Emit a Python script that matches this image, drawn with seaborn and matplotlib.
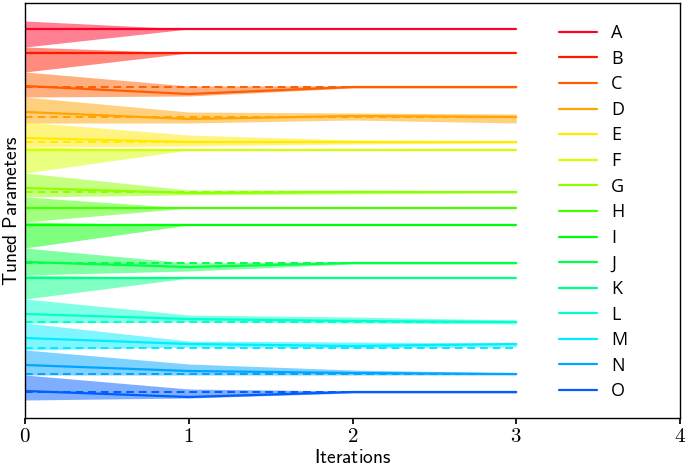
import numpy as np
import pandas as pd
import matplotlib
matplotlib.use("Agg")
import matplotlib.pyplot as plt
from matplotlib.ticker import FuncFormatter
import seaborn as sns

# parameters and iterations
params = list("ABCDEFGHIJKLMNO")
iterations = [0, 1, 2, 3]

# true (target) value of each parameter, dashed line
true_vals = [389, 365, 331, 301, 276, 268, 226, 210, 193, 155, 140, 96, 70, 44, 26]

# estimate per iteration (solid line)
estimates = {
    "A": [389, 389, 389, 389],
    "B": [365, 365, 365, 365],
    "C": [332, 324, 331, 331],
    "D": [306, 299, 302, 301],
    "E": [280, 276, 276, 276],
    "F": [268, 268, 268, 268],
    "G": [230, 225, 226, 226],
    "H": [210, 210, 210, 210],
    "I": [193, 193, 193, 193],
    "J": [156, 151, 155, 155],
    "K": [140, 140, 140, 140],
    "L": [104, 99, 97, 96],
    "M": [80, 74, 72, 74],
    "N": [53, 47, 45, 44],
    "O": [27, 21, 26, 26],
}

# band bounds per iteration
upper = {
    "A": [397, 389, 389, 389],
    "B": [371, 365, 365, 365],
    "C": [346, 332, 332, 332],
    "D": [321, 306, 305, 304],
    "E": [296, 283, 278, 277],
    "F": [271, 268, 268, 268],
    "G": [245, 228, 228, 227],
    "H": [221, 210, 210, 210],
    "I": [196, 193, 193, 193],
    "J": [170, 155, 156, 156],
    "K": [143, 140, 140, 140],
    "L": [119, 103, 101, 98],
    "M": [95, 77, 76, 75],
    "N": [68, 54, 48, 45],
    "O": [43, 29, 27, 27],
}
lower = {
    "A": [371, 389, 389, 389],
    "B": [346, 365, 365, 365],
    "C": [321, 322, 330, 330],
    "D": [295, 295, 298, 295],
    "E": [271, 272, 274, 275],
    "F": [245, 268, 268, 268],
    "G": [221, 223, 224, 225],
    "H": [196, 210, 210, 210],
    "I": [170, 193, 193, 193],
    "J": [143, 147, 154, 154],
    "K": [119, 140, 140, 140],
    "L": [95, 96, 95, 94],
    "M": [68, 71, 70, 71],
    "N": [43, 43, 43, 43],
    "O": [18, 20, 25, 25],
}

sns.set_theme(style="ticks")
plt.rcParams["mathtext.fontset"] = "cm"
plt.rcParams["text.color"] = "black"
plt.rcParams["axes.labelcolor"] = "black"

fig, ax = plt.subplots(figsize=(6.85, 4.67), dpi=100)
fig.subplots_adjust(left=25 / 685, right=680 / 685, bottom=49 / 467, top=464 / 467)

colors = plt.get_cmap("gist_rainbow")(np.linspace(0, 0.7, len(params)))
palette = dict(zip(params, colors))

df = pd.DataFrame(
    [
        {"param": p, "iteration": it, "estimate": estimates[p][i]}
        for p in params
        for i, it in enumerate(iterations)
    ]
)

for p in params:
    ax.fill_between(iterations, lower[p], upper[p], color=palette[p], alpha=0.5, lw=0)

sns.lineplot(
    data=df, x="iteration", y="estimate", hue="param", hue_order=params,
    palette=palette, linewidth=1.6, ax=ax,
)

for p, t in zip(params, true_vals):
    ax.hlines(t, iterations[0], iterations[-1], colors=[palette[p]],
              linestyles=(0, (4, 2.5)), linewidth=1.4)

ax.set_xlim(0, 4)
ax.set_ylim(0, 415)
ax.set_xticks([0, 1, 2, 3, 4])
ax.xaxis.set_major_formatter(FuncFormatter(lambda v, pos: r"$%d$" % v))
ax.tick_params(axis="x", labelsize=15, colors="black", length=4, pad=2)
ax.set_yticks([])
for s in ax.spines.values():
    s.set_color("black")
    s.set_linewidth(1.0)

ax.set_xlabel(r"$\mathsf{Iterations}$", fontsize=14, labelpad=1)
ax.set_ylabel(r"$\mathsf{Tuned\ Parameters}$", fontsize=14, labelpad=3)

handles, labels = ax.get_legend_handles_labels()
leg = ax.legend(
    handles, labels, loc="upper left", bbox_to_anchor=(0.815, 0.949),
    frameon=False, handlelength=2.1, labelspacing=0.42,
    borderaxespad=0, borderpad=0, prop={"family": "Open Sans", "size": 13},
)
for txt in leg.get_texts():
    txt.set_color("black")

fig.savefig("out.png", dpi=100)
